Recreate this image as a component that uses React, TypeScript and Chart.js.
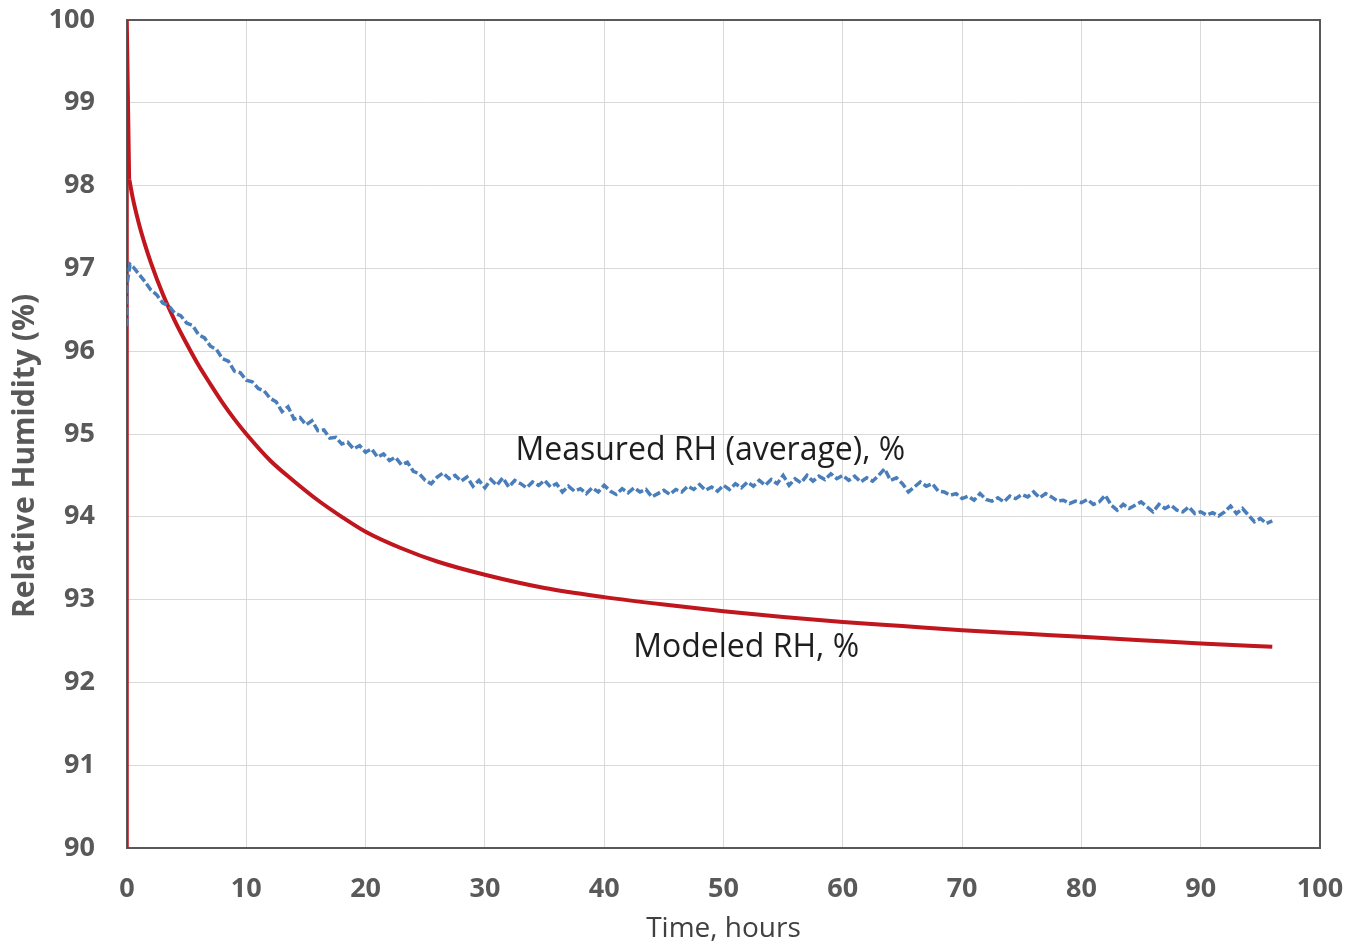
import React, { useEffect, useRef } from "react";
import { Chart, registerables } from "chart.js";

Chart.register(...registerables);

// ---- Data ----
const xTickStep = 10;
const yTickStep = 1;
const xRange = [0, 100];
const yRange = [90, 100];

const xAxisTitle = "Time, hours";
const yAxisTitle = "Relative Humidity (%)";
const measuredLabel = "Measured RH (average), %";
const modeledLabel = "Modeled RH, %";

// Modeled RH: initial step at t=0 then decay
const modeledStartHours = [0, 0, 0.2];
const modeledStartRH = [90, 100, 98.07];

const modeledHours = [
  0.2, 0.5, 1, 1.5, 2, 3, 4, 5, 6, 7, 8, 9, 10, 12, 14, 16, 18, 20, 23, 26, 30,
  35, 40, 45, 50, 55, 60, 65, 70, 75, 80, 85, 90, 96,
];
const modeledRH = [
  98.07, 97.84, 97.54, 97.29, 97.07, 96.69, 96.37, 96.09, 95.83, 95.6, 95.38,
  95.18, 95.0, 94.68, 94.43, 94.2, 94.0, 93.82, 93.62, 93.46, 93.3, 93.14,
  93.03, 92.94, 92.86, 92.79, 92.73, 92.68, 92.63, 92.59, 92.55, 92.51, 92.47,
  92.43,
];

// Measured RH: start-up readings at t=0, then samples every 0.5 h from 0.5 h to 96 h
const measuredStartHours = [0, 0, 0.25];
const measuredStartRH = [96.3, 96.8, 97.05];
const measuredFirstHour = 0.5;
const measuredStepHours = 0.5;
const measuredRH = [
  97.02, 96.93, 96.84, 96.74, 96.68, 96.58, 96.55, 96.46, 96.43, 96.34,
  96.31, 96.2, 96.16, 96.06, 96.02, 95.91, 95.88, 95.76, 95.74, 95.65,
  95.63, 95.55, 95.52, 95.43, 95.39, 95.27, 95.33, 95.18, 95.2, 95.11,
  95.16, 95.04, 95.05, 94.95, 94.96, 94.88, 94.9, 94.82, 94.86, 94.78,
  94.82, 94.72, 94.76, 94.68, 94.72, 94.63, 94.66, 94.55, 94.52, 94.44,
  94.4, 94.48, 94.53, 94.46, 94.5, 94.43, 94.48, 94.37, 94.44, 94.35,
  94.45, 94.38, 94.47, 94.36, 94.44, 94.4, 94.35, 94.42, 94.38, 94.44,
  94.36, 94.4, 94.3, 94.37, 94.31, 94.34, 94.28, 94.35, 94.3, 94.38,
  94.31, 94.27, 94.34, 94.29, 94.35, 94.3, 94.33, 94.24, 94.28, 94.32,
  94.27, 94.33, 94.3, 94.37, 94.33, 94.39, 94.32, 94.36, 94.31, 94.38,
  94.33, 94.4, 94.35, 94.42, 94.37, 94.44, 94.38, 94.45, 94.4, 94.5,
  94.38, 94.46, 94.41, 94.5, 94.43, 94.49, 94.45, 94.52, 94.46, 94.5,
  94.44, 94.49, 94.42, 94.47, 94.43, 94.5, 94.58, 94.44, 94.47, 94.4,
  94.3, 94.36, 94.42, 94.37, 94.4, 94.31, 94.3, 94.26, 94.28, 94.22,
  94.25, 94.2, 94.28, 94.21, 94.19, 94.23, 94.18, 94.25, 94.22, 94.27,
  94.24, 94.3, 94.23, 94.28, 94.24, 94.19, 94.2, 94.16, 94.19, 94.17,
  94.21, 94.15, 94.18, 94.26, 94.14, 94.08, 94.15, 94.1, 94.14, 94.18,
  94.12, 94.06, 94.15, 94.1, 94.14, 94.08, 94.06, 94.12, 94.04, 94.06,
  94.02, 94.05, 94.01, 94.06, 94.13, 94.04, 94.1, 94.02, 93.94, 93.98,
  93.92, 93.95,
];

// Label anchor positions (data coordinates)
const measuredLabelPos = { x: 48.9, y: 94.8 };
const modeledLabelPos = { x: 51.9, y: 92.42 };

// ---- Styles ----
const RED = "#C0161D";
const BLUE = "#4A7EBB";
const AXIS_TEXT = "#595959";
const GRID = "#D9D9D9";
const FONT = "'Open Sans', 'Liberation Sans', sans-serif";

export default function App() {
  const ref = useRef<HTMLCanvasElement | null>(null);

  useEffect(() => {
    if (!ref.current) return;

    const modeledStart = modeledStartHours.map((h, i) => ({ x: h, y: modeledStartRH[i] }));
    const modeledCurve = modeledHours.map((h, i) => ({ x: h, y: modeledRH[i] }));
    const measured = [
      ...measuredStartHours.map((h, i) => ({ x: h, y: measuredStartRH[i] })),
      ...measuredRH.map((v, i) => ({ x: measuredFirstHour + i * measuredStepHours, y: v })),
    ];

    const frame = {
      id: "frame",
      beforeDatasetsDraw(chart: any) {
        const { ctx, chartArea } = chart;
        ctx.save();
        ctx.strokeStyle = AXIS_TEXT;
        ctx.lineWidth = 2;
        ctx.strokeRect(chartArea.left, chartArea.top, chartArea.right - chartArea.left, chartArea.bottom - chartArea.top);
        // y-axis title
        ctx.translate(25, 456);
        ctx.rotate(-Math.PI / 2);
        ctx.fillStyle = AXIS_TEXT;
        ctx.font = `bold 30px ${FONT}`;
        ctx.textAlign = "center";
        ctx.textBaseline = "middle";
        ctx.fillText(yAxisTitle, 0, 0);
        ctx.restore();
      },
    };

    const labels = {
      id: "labels",
      afterDatasetsDraw(chart: any) {
        const { ctx, scales } = chart;
        ctx.save();
        ctx.fillStyle = "#1E1E1E";
        ctx.font = `32px ${FONT}`;
        ctx.textAlign = "center";
        ctx.textBaseline = "middle";
        ctx.fillText(measuredLabel, scales.x.getPixelForValue(measuredLabelPos.x), scales.y.getPixelForValue(measuredLabelPos.y));
        ctx.fillText(modeledLabel, scales.x.getPixelForValue(modeledLabelPos.x), scales.y.getPixelForValue(modeledLabelPos.y));
        ctx.restore();
      },
    };

    const chart = new Chart(ref.current, {
      type: "line",
      data: {
        datasets: [
          {
            label: measuredLabel,
            data: measured,
            borderColor: BLUE,
            borderWidth: 3.5,
            borderDash: [8, 3],
            pointRadius: 0,
            tension: 0,
            order: 0,
          },
          {
            label: modeledLabel,
            data: modeledCurve,
            borderColor: RED,
            borderWidth: 4,
            pointRadius: 0,
            cubicInterpolationMode: "monotone",
            order: 1,
          },
          {
            label: "modeled start",
            data: modeledStart,
            borderColor: RED,
            borderWidth: 3.5,
            pointRadius: 0,
            tension: 0,
            order: 2,
          },
        ],
      },
      options: {
        responsive: false,
        animation: false,
        events: [],
        layout: { padding: { top: 20, right: 43, left: 0, bottom: 0 } },
        plugins: { legend: { display: false }, tooltip: { enabled: false } },
        scales: {
          x: {
            type: "linear",
            min: xRange[0],
            max: xRange[1],
            afterFit(scale: any) {
              scale.height = 104;
              scale.paddingLeft = 0;
              scale.paddingRight = 0;
            },
            ticks: {
              stepSize: xTickStep,
              color: AXIS_TEXT,
              font: { family: FONT, size: 27, weight: "bold" },
              padding: 25,
              maxRotation: 0,
            },
            grid: { color: GRID, lineWidth: 1, drawTicks: false },
            border: { display: false },
            title: {
              display: true,
              text: xAxisTitle,
              color: "#404040",
              font: { family: FONT, size: 28 },
              padding: { top: 0, bottom: 6 },
            },
          },
          y: {
            type: "linear",
            min: yRange[0],
            max: yRange[1],
            afterFit(scale: any) {
              scale.width = 127;
              scale.paddingTop = 0;
              scale.paddingBottom = 0;
            },
            ticks: {
              stepSize: yTickStep,
              color: AXIS_TEXT,
              font: { family: FONT, size: 27, weight: "bold" },
              padding: 32,
            },
            grid: { color: GRID, lineWidth: 1, drawTicks: false },
            border: { display: false },
          },
        },
      },
      plugins: [frame, labels],
    });

    return () => chart.destroy();
  }, []);

  return (
    <div style={{ position: "absolute", left: 0, top: 0, width: 1363, height: 952, background: "#fff" }}>
      <canvas ref={ref} width={1363} height={952} style={{ display: "block", width: 1363, height: 952 }} />
    </div>
  );
}
